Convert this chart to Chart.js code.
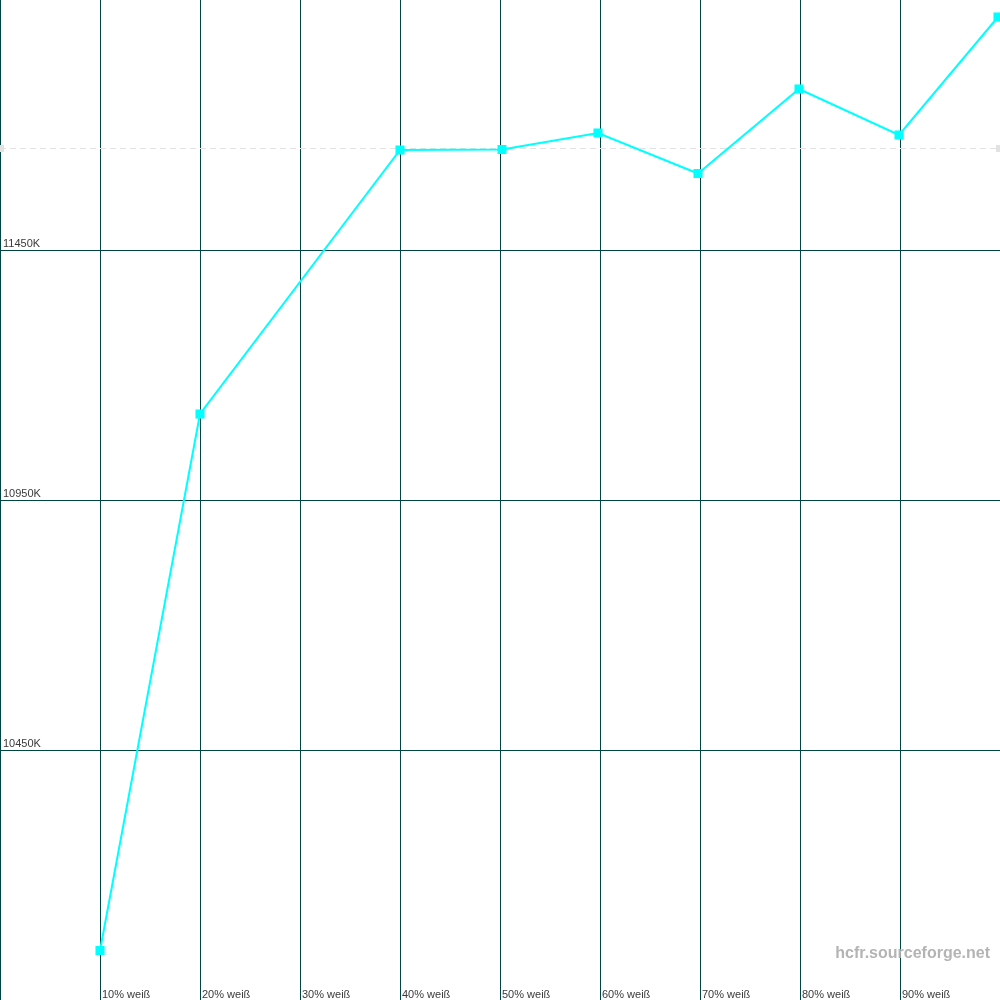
<!DOCTYPE html>
<html>
<head>
<meta charset="utf-8">
<style>
html,body{margin:0;padding:0;background:#fff;}
#wrap{width:1000px;height:1000px;position:relative;}
</style>
<script src="https://cdn.jsdelivr.net/npm/chart.js@4/dist/chart.umd.min.js"></script>
</head>
<body>
<div id="wrap"><canvas id="c" width="1000" height="1000"></canvas></div>
<script>
// Data
const categories = ["10% weiß","20% weiß","30% weiß","40% weiß","50% weiß","60% weiß","70% weiß","80% weiß","90% weiß"];
const categoryPositions = [10,20,30,40,50,60,70,80,90];
const pointX = [10, 20, 40, 50.2, 59.8, 69.8, 79.9, 89.9, 99.8];
const pointK = [10049, 11122, 11650, 11651, 11684, 11603, 11772, 11680, 11916];
const yTicks = [10450, 10950, 11450];
const yTickLabels = ["10450K","10950K","11450K"];
const refValue = 11654;
const yMin = 9950, yMax = 11950;

const gridColor = '#004444';

const overlay = {
  id:'overlay',
  beforeDatasetsDraw(chart){
    const {ctx, scales:{x,y}} = chart;
    ctx.save();
    const ry = Math.round(y.getPixelForValue(refValue)) + 0.5;
    ctx.strokeStyle = '#e2e2e2';
    ctx.lineWidth = 1;
    ctx.setLineDash([6,4]);
    ctx.beginPath(); ctx.moveTo(0, ry); ctx.lineTo(1000, ry); ctx.stroke();
    ctx.setLineDash([]);
    ctx.fillStyle = '#e2e2e2';
    ctx.fillRect(0, ry-3.5, 4, 7);
    ctx.fillRect(996, ry-3.5, 4, 7);
    ctx.restore();
  },
  afterDatasetsDraw(chart){
    const {ctx, scales:{x,y}} = chart;
    ctx.save();
    ctx.font = '11px "Liberation Sans", Arial, sans-serif';
    ctx.fillStyle = '#3a3a3a';
    ctx.textBaseline = 'alphabetic';
    ctx.textAlign = 'left';
    yTicks.forEach((v,i)=>{
      const py = y.getPixelForValue(v);
      ctx.fillText(yTickLabels[i], 3, py - 3);
    });
    categories.forEach((lab,i)=>{
      const px = x.getPixelForValue(categoryPositions[i]);
      ctx.fillText(lab, px + 2, 998);
    });
    ctx.font = 'bold 16px "Liberation Sans", Arial, sans-serif';
    ctx.fillStyle = '#b4b4b4';
    ctx.textAlign = 'right';
    ctx.fillText('hcfr.sourceforge.net', 990, 958);
    ctx.restore();
  }
};

new Chart(document.getElementById('c'), {
  type:'line',
  data:{
    datasets:[{
      data: pointX.map((xv,i)=>({x:xv, y:pointK[i]})),
      borderColor:'#00ffff',
      backgroundColor:'#00ffff',
      borderWidth:2,
      pointStyle:'rect',
      pointRadius:6.4,
      pointHoverRadius:6.4,
      pointBorderWidth:0,
      tension:0,
      fill:false,
      clip:false
    }]
  },
  options:{
    responsive:false,
    animation:false,
    devicePixelRatio:1,
    layout:{padding:0, autoPadding:false},
    plugins:{legend:{display:false}, tooltip:{enabled:false}},
    scales:{
      x:{
        type:'linear', min:0, max:100,
        ticks:{display:false, stepSize:10},
        grid:{
          color:(c)=> (c.tick && c.tick.value >= 100) ? 'rgba(0,0,0,0)' : gridColor,
          lineWidth:(c)=> (c.tick && c.tick.value === 0) ? 2 : 1,
          drawTicks:false
        },
        border:{display:false}
      },
      y:{
        type:'linear', min:yMin, max:yMax,
        afterBuildTicks(scale){ scale.ticks = yTicks.map(v=>({value:v})); },
        ticks:{display:false},
        grid:{color:gridColor, lineWidth:1, drawTicks:false},
        border:{display:false}
      }
    }
  },
  plugins:[overlay]
});
</script>
</body>
</html>
